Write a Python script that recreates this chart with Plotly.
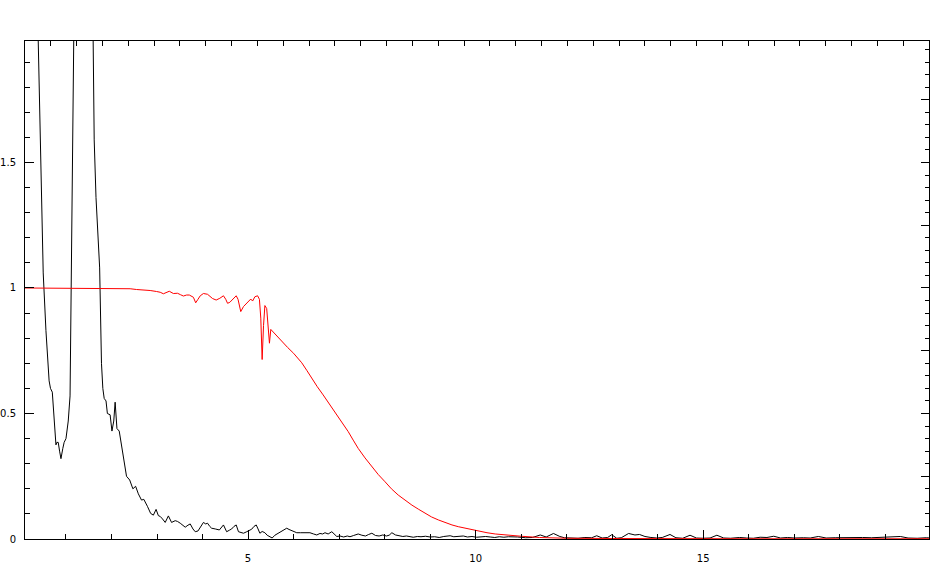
import plotly.graph_objects as go

# ---- black series (x, y) ----
black_x = [0.10, 0.30, 0.50, 0.56, 0.63, 0.66, 0.70, 0.73, 0.76, 0.78, 0.80, 0.83, 0.86, 0.89, 0.93, 0.96, 1.00, 1.05, 1.09,
           1.20, 1.30, 1.40, 1.50, 1.55, 1.62, 1.66, 1.71, 1.74, 1.78, 1.81, 1.84, 1.88, 1.91, 1.97, 2.01, 2.05, 2.08, 2.12,
           2.17, 2.22, 2.28, 2.33, 2.40, 2.47, 2.53, 2.59, 2.66, 2.71, 2.79, 2.86, 2.92, 2.98, 3.03, 3.07, 3.12, 3.18, 3.25,
           3.32, 3.40, 3.45, 3.51, 3.57, 3.62, 3.68, 3.73, 3.79, 3.84, 3.90, 3.96, 4.02, 4.07, 4.11, 4.16, 4.20, 4.28, 4.37,
           4.46, 4.53, 4.59, 4.64, 4.69, 4.74, 4.79, 4.85, 4.90, 4.96, 5.01, 5.08, 5.13, 5.18, 5.22, 5.26, 5.31, 5.37, 5.42,
           5.48, 5.53, 5.59, 5.66, 5.74, 5.80, 5.85, 5.90, 5.96, 6.02, 6.07, 6.15, 6.22, 6.29, 6.36, 6.44, 6.51, 6.58, 6.64,
           6.69, 6.76, 6.84, 6.90, 6.95, 7.02, 7.10, 7.18, 7.24, 7.32, 7.42, 7.50, 7.58, 7.65, 7.72, 7.80, 7.88, 7.96, 8.04,
           8.10, 8.16, 8.24, 8.32, 8.40, 8.48, 8.56, 8.63, 8.72, 8.80, 8.90, 9.00, 9.10, 9.20, 9.30, 9.37, 9.44, 9.52, 9.62,
           9.73, 9.82, 9.92, 10.02, 10.12, 10.22, 10.32, 10.42, 10.52, 10.62, 10.72, 10.82, 10.92, 11.10, 11.25, 11.42,
           11.55, 11.71, 11.85, 11.95, 12.10, 12.25, 12.40, 12.55, 12.66, 12.78, 12.90, 12.99, 13.10, 13.20, 13.36, 13.50,
           13.60, 13.72, 13.85, 13.98, 14.10, 14.27, 14.40, 14.55, 14.71, 14.85, 15.00, 15.15, 15.30, 15.45, 15.60, 15.80,
           15.95, 16.10, 16.25, 16.40, 16.55, 16.70, 16.85, 17.00, 17.20, 17.35, 17.53, 17.70, 17.90, 18.10, 18.30, 18.50,
           18.70, 18.90, 19.10, 19.33, 19.50, 19.70, 19.90, 20.00]
black_y = [5.0, 2.75, 1.06, 0.83, 0.63, 0.60, 0.585, 0.50, 0.43, 0.375, 0.385, 0.385, 0.35, 0.32, 0.36, 0.385, 0.40, 0.47, 0.57,
           2.5, 6.0, 8.0, 6.0, 2.8, 1.59, 1.36, 1.20, 1.08, 0.70, 0.60, 0.56, 0.55, 0.50, 0.495, 0.43, 0.47, 0.545, 0.44,
           0.43, 0.375, 0.32, 0.25, 0.235, 0.20, 0.21, 0.18, 0.155, 0.158, 0.13, 0.102, 0.095, 0.118, 0.093, 0.09, 0.08, 0.066, 0.092,
           0.066, 0.073, 0.07, 0.063, 0.055, 0.047, 0.055, 0.060, 0.04, 0.029, 0.032, 0.05, 0.066, 0.060, 0.063, 0.05, 0.043, 0.04, 0.036,
           0.056, 0.029, 0.035, 0.040, 0.05, 0.056, 0.029, 0.025, 0.023, 0.028, 0.033, 0.039, 0.05, 0.056, 0.04, 0.023, 0.03, 0.025, 0.015,
           0.009, 0.004, 0.015, 0.022, 0.029, 0.036, 0.043, 0.038, 0.033, 0.03, 0.025, 0.025, 0.026, 0.027, 0.025, 0.02, 0.016, 0.022, 0.02,
           0.025, 0.02, 0.029, 0.02, 0.01, 0.012, 0.008, 0.012, 0.009, 0.014, 0.02, 0.015, 0.012, 0.018, 0.023, 0.014, 0.012, 0.016, 0.012,
           0.015, 0.025, 0.016, 0.012, 0.01, 0.012, 0.009, 0.007, 0.01, 0.009, 0.011, 0.008, 0.009, 0.006, 0.01, 0.011, 0.013, 0.009, 0.01,
           0.012, 0.008, 0.01, 0.007, 0.009, 0.01, 0.008, 0.006, 0.009, 0.007, 0.009, 0.01, 0.008, 0.005, 0.006, 0.016,
           0.008, 0.022, 0.01, 0.005, 0.004, 0.003, 0.006, 0.005, 0.013, 0.004, 0.006, 0.017, 0.003, 0.005, 0.022, 0.016,
           0.018, 0.01, 0.006, 0.004, 0.006, 0.018, 0.005, 0.003, 0.015, 0.004, 0.003, 0.004, 0.015, 0.004, 0.003, 0.006,
           0.004, 0.003, 0.007, 0.006, 0.011, 0.004, 0.006, 0.004, 0.005, 0.004, 0.01, 0.004, 0.005, 0.006, 0.005, 0.006,
           0.005, 0.006, 0.007, 0.01, 0.004, 0.003, 0.005, 0.004]

# ---- red series (x, y) ----
red_x = [0.10, 0.50, 0.70, 1.00, 1.20, 1.60, 1.90, 2.20, 2.41, 2.55, 2.70, 2.85, 2.99, 3.07, 3.14, 3.22, 3.27, 3.36, 3.45,
         3.52, 3.58, 3.65, 3.71, 3.80, 3.85, 3.90, 3.95, 4.02, 4.11, 4.22, 4.30, 4.38, 4.46, 4.51, 4.55, 4.60, 4.67, 4.74,
         4.78, 4.84, 4.90, 5.01, 5.06, 5.10, 5.15, 5.21, 5.25, 5.28, 5.31, 5.34, 5.37, 5.41, 5.44, 5.47, 5.50, 5.74, 5.87,
         6.00, 6.18, 6.29, 6.40, 6.52, 6.65, 6.78, 6.91, 7.05, 7.20, 7.31, 7.42, 7.57, 7.72, 7.86, 8.01, 8.15, 8.30, 8.45,
         8.60, 8.75, 8.89, 9.03, 9.18, 9.33, 9.48, 9.62, 9.77, 9.91, 10.06, 10.25, 10.43, 10.75, 11.00, 11.40, 12.00, 13.00,
         14.00, 16.00, 18.00, 20.00]
red_y = [1.0, 1.0, 0.997, 0.997, 1.0, 1.0, 0.999, 0.997, 0.997, 0.994, 0.993, 0.99, 0.986, 0.983, 0.977, 0.985, 0.987, 0.978, 0.979,
         0.973, 0.968, 0.972, 0.972, 0.963, 0.941, 0.955, 0.969, 0.978, 0.975, 0.958, 0.952, 0.959, 0.969, 0.955, 0.939, 0.943, 0.957, 0.969,
         0.955, 0.906, 0.926, 0.945, 0.956, 0.948, 0.965, 0.969, 0.955, 0.88, 0.715, 0.85, 0.93, 0.918, 0.86, 0.78, 0.835, 0.786, 0.763,
         0.740, 0.702, 0.672, 0.640, 0.607, 0.574, 0.540, 0.507, 0.467, 0.428, 0.394, 0.361, 0.323, 0.288, 0.257, 0.228, 0.200, 0.175, 0.154,
         0.135, 0.118, 0.102, 0.088, 0.076, 0.065, 0.056, 0.049, 0.043, 0.037, 0.032, 0.025, 0.020, 0.014, 0.011, 0.006, 0.003, 0.002,
         0.001, 0.001, 0.001, 0.001]

FONT = dict(family="DejaVu Sans", size=10, color="black")

fig = go.Figure()
fig.add_trace(go.Scatter(x=black_x, y=black_y, mode="lines", line=dict(color="black", width=1),
                         showlegend=False, hoverinfo="skip"))
fig.add_trace(go.Scatter(x=red_x, y=red_y, mode="lines", line=dict(color="#ff0000", width=1),
                         showlegend=False, hoverinfo="skip"))
# dummy trace to activate the secondary (tick-only) axes
fig.add_trace(go.Scatter(x=[None], y=[None], xaxis="x2", yaxis="y2", showlegend=False, hoverinfo="skip"))

fig.update_layout(
    width=950, height=574,
    margin=dict(l=25, r=21, t=41, b=35, autoexpand=False),
    paper_bgcolor="white", plot_bgcolor="rgba(0,0,0,0)",
    showlegend=False,
    xaxis=dict(range=[0.1, 19.96], showline=True, linecolor="black", linewidth=1, mirror=True, automargin=False,
               ticks="inside", ticklen=9, tickwidth=1, tickcolor="black", tick0=0, dtick=5, layer="above traces",
               minor=dict(ticks="inside", ticklen=5, tickwidth=1, tickcolor="black", dtick=1, tick0=0, showgrid=False),
               showgrid=False, zeroline=False, tickfont=FONT, ticklabelstandoff=10),
    yaxis=dict(range=[0, 1.984], showline=True, linecolor="black", linewidth=1, mirror=True, automargin=False,
               ticks="inside", ticklen=9, tickwidth=1, tickcolor="black", tick0=0, dtick=0.5, layer="above traces",
               minor=dict(ticks="inside", ticklen=5, tickwidth=1, tickcolor="black", dtick=0.1, tick0=0, showgrid=False),
               showgrid=False, zeroline=False, tickfont=FONT, ticklabelstandoff=6),
    xaxis2=dict(overlaying="x", side="top", anchor="y", range=[0, 35], showline=False, showgrid=False, automargin=False,
                zeroline=False, ticks="inside", ticklen=5, tickwidth=1, tickcolor="black", tick0=0, dtick=1,
                showticklabels=False, layer="above traces"),
    yaxis2=dict(overlaying="y", side="right", anchor="x", range=[0, 1.984], showline=False, showgrid=False, automargin=False,
                zeroline=False, ticks="inside", ticklen=8, tickwidth=1, tickcolor="black", tick0=0, dtick=0.25,
                minor=dict(ticks="inside", ticklen=4, tickwidth=1, tickcolor="black", dtick=0.05, tick0=0, showgrid=False),
                showticklabels=False, layer="above traces"),
)

fig.write_html("out.html", config={"displayModeBar": False},
               post_script="document.body.style.margin='0px';")
